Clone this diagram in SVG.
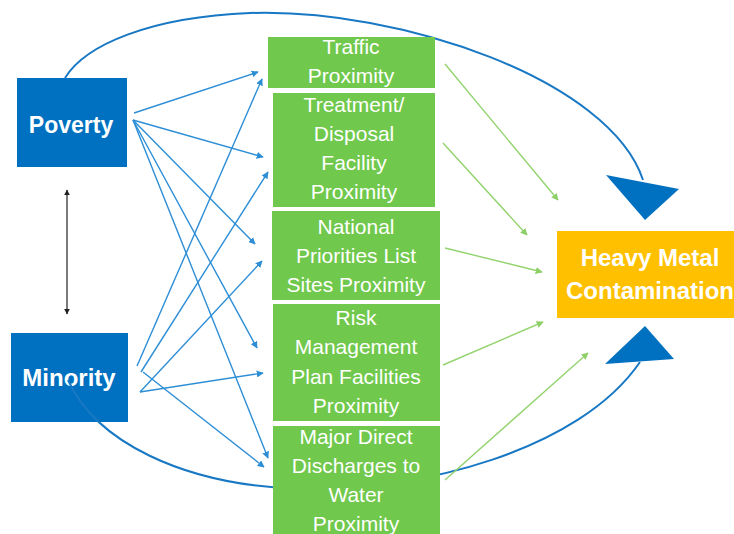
<svg xmlns="http://www.w3.org/2000/svg" width="734" height="534" viewBox="0 0 734 534">
<defs>
<style>
.blue{fill:#0070C0}
.green{fill:#70C84C}
.orange{fill:#FFC000}
.lbl{font-family:"Liberation Sans",Arial,sans-serif;fill:#fff;text-anchor:middle}
.big{font-weight:bold}
.gl{font-size:21px}
.bl{stroke:#2D8ED6;stroke-width:1.4;fill:none;marker-end:url(#ab)}
.gr{stroke:#92D36E;stroke-width:1.4;fill:none;marker-end:url(#ag)}
.arc{stroke:#1878C4;stroke-width:2;fill:none}
</style>
<marker id="ab" viewBox="0 0 10 10" refX="9" refY="5" markerWidth="7" markerHeight="7" markerUnits="userSpaceOnUse" orient="auto"><path d="M0,0L10,5L0,10z" fill="#2D8ED6"/></marker>
<marker id="ag" viewBox="0 0 10 10" refX="9" refY="5" markerWidth="7" markerHeight="7" markerUnits="userSpaceOnUse" orient="auto"><path d="M0,0L10,5L0,10z" fill="#8CCF66"/></marker>
<marker id="ak" viewBox="0 0 10 10" refX="9" refY="5" markerWidth="6" markerHeight="6" markerUnits="userSpaceOnUse" orient="auto-start-reverse"><path d="M0,0L10,5L0,10z" fill="#222"/></marker>
</defs>
<rect width="734" height="534" fill="#fff"/>

<g id="poverty">
<rect class="blue" x="17" y="78" width="110" height="89"/>
<text class="lbl big" x="71" y="133" font-size="23">Poverty</text>
</g>
<g id="minority">
<rect class="blue" x="11" y="333" width="117" height="89"/>
<text class="lbl big" x="69" y="386" font-size="24">Minority</text>
</g>

<g id="connectors">
<path class="arc" d="M65,78 C85,45 150,17 250,13 C400,8 610,80 643,180"/>
<path class="arc" d="M68,380 C95,440 180,485 300,489 C420,492 580,450 640,362"/>
<polygon class="blue" points="606,175 679,189 645,220"/>
<polygon class="blue" points="645,326 674,359 605,364"/>
<line x1="67" y1="190" x2="67" y2="314" stroke="#222" stroke-width="1.2" marker-start="url(#ak)" marker-end="url(#ak)"/>
<line class="bl" x1="134" y1="113" x2="258" y2="72"/>
<line class="bl" x1="133" y1="120" x2="263" y2="157"/>
<line class="bl" x1="133" y1="120" x2="255" y2="244"/>
<line class="bl" x1="133" y1="120" x2="257" y2="348"/>
<line class="bl" x1="133" y1="120" x2="268" y2="458"/>
<line class="bl" x1="137" y1="366" x2="262" y2="79"/>
<line class="bl" x1="141" y1="372" x2="268" y2="172"/>
<line class="bl" x1="140" y1="392" x2="262" y2="261"/>
<line class="bl" x1="140" y1="392" x2="263" y2="373"/>
<line class="bl" x1="143" y1="372" x2="264" y2="467"/>
<line class="gr" x1="445" y1="64" x2="558" y2="200"/>
<line class="gr" x1="443" y1="143" x2="527" y2="235"/>
<line class="gr" x1="445" y1="248" x2="542" y2="272"/>
<line class="gr" x1="443" y1="365" x2="543" y2="322"/>
<line class="gr" x1="445" y1="480" x2="588" y2="353"/>
</g>

<g id="traffic">
<rect class="green" x="268" y="37" width="167" height="51"/>
<text class="lbl gl" x="351" y="54">Traffic</text>
<text class="lbl gl" x="351" y="83">Proximity</text>
</g>
<g id="treatment">
<rect class="green" x="273" y="93" width="162" height="114"/>
<text class="lbl gl" x="354" y="112">Treatment/</text>
<text class="lbl gl" x="354" y="141">Disposal</text>
<text class="lbl gl" x="354" y="170">Facility</text>
<text class="lbl gl" x="354" y="199">Proximity</text>
</g>
<g id="npl">
<rect class="green" x="272" y="211" width="168" height="89"/>
<text class="lbl gl" x="356" y="234">National</text>
<text class="lbl gl" x="356" y="263">Priorities List</text>
<text class="lbl gl" x="356" y="292">Sites Proximity</text>
</g>
<g id="rmp">
<rect class="green" x="273" y="304" width="167" height="117"/>
<text class="lbl gl" x="356" y="325">Risk</text>
<text class="lbl gl" x="356" y="354">Management</text>
<text class="lbl gl" x="356" y="384">Plan Facilities</text>
<text class="lbl gl" x="356" y="413">Proximity</text>
</g>
<g id="discharges">
<rect class="green" x="273" y="426" width="167" height="112"/>
<text class="lbl gl" x="356" y="444">Major Direct</text>
<text class="lbl gl" x="356" y="473">Discharges to</text>
<text class="lbl gl" x="356" y="502">Water</text>
<text class="lbl gl" x="356" y="531">Proximity</text>
</g>
<g id="heavymetal">
<rect class="orange" x="557" y="231" width="190" height="87"/>
<text class="lbl big" x="650" y="266" font-size="24">Heavy Metal</text>
<text class="lbl big" x="650" y="299" font-size="24">Contamination</text>
</g>
</svg>
